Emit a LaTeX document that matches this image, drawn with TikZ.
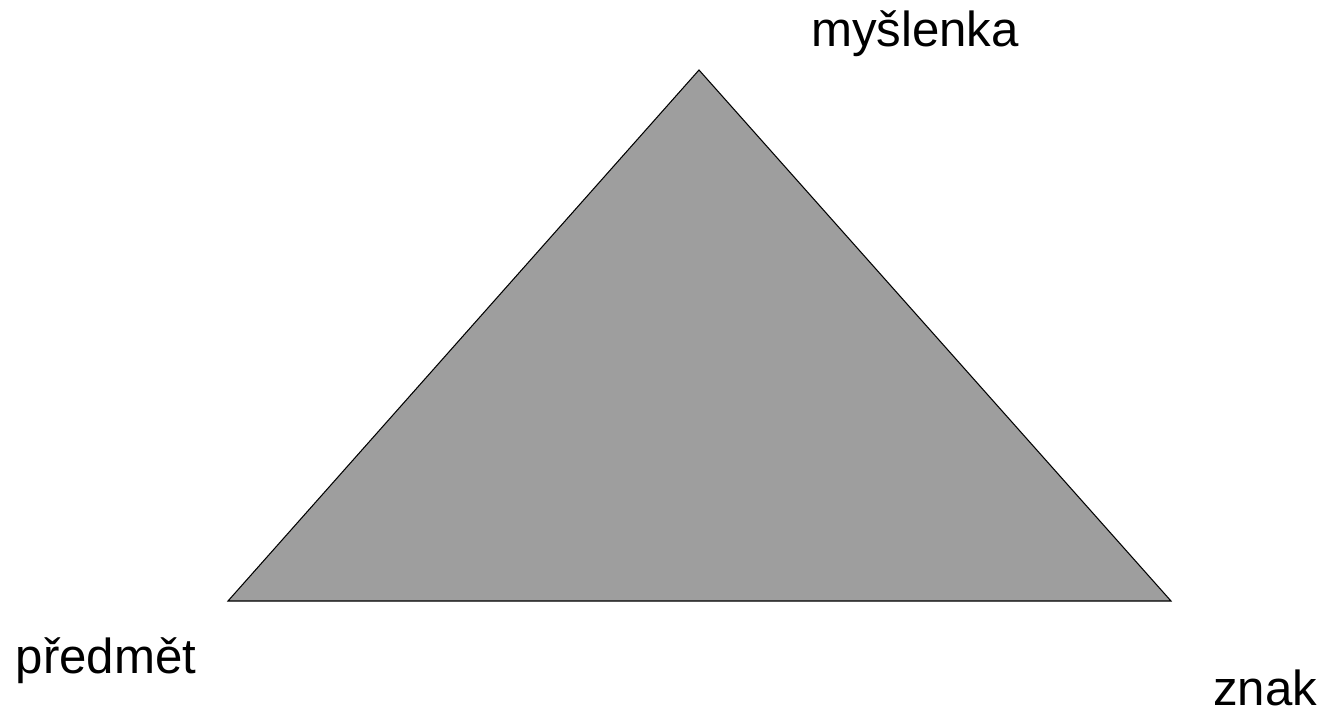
\documentclass[tikz,border=0pt]{standalone}
\usepackage{fontspec}
\setmainfont{Liberation Sans}
\definecolor{trigray}{HTML}{9E9E9E}

\begin{document}
\begin{tikzpicture}[x=0.02cm, y=-0.02cm, every node/.style={font=\fontsize{28}{33}\selectfont, anchor=base, inner sep=0pt}]
\useasboundingbox (0,0) rectangle (1326,713);
\coordinate (apex) at (699,70);
\coordinate (left) at (228,601);
\coordinate (right) at (1171,601);
\filldraw[fill=trigray, draw=black, line width=0.6pt, line join=miter] (apex) -- (right) -- (left) -- cycle;
\node (thought) at (915,47) {myšlenka};
\node (object) at (106,673) {předmět};
\node (sign) at (1265,705) {znak};
\end{tikzpicture}
\end{document}
